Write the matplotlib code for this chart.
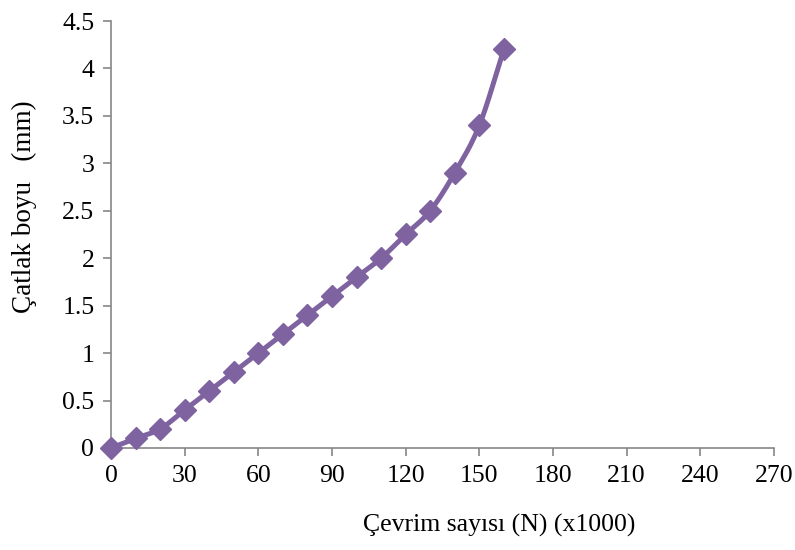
import numpy as np
import matplotlib.pyplot as plt

plt.rcParams['font.family'] = ['Liberation Serif', 'DejaVu Serif']

cycles = [0, 10, 20, 30, 40, 50, 60, 70, 80, 90, 100, 110, 120, 130, 140, 150, 160]
crack = [0, 0.1, 0.2, 0.4, 0.6, 0.8, 1.0, 1.2, 1.4, 1.6, 1.8, 2.0, 2.25, 2.5, 2.9, 3.4, 4.2]
x_ticks = [0, 30, 60, 90, 120, 150, 180, 210, 240, 270]
y_ticks = [0, 0.5, 1, 1.5, 2, 2.5, 3, 3.5, 4, 4.5]
y_tick_labels = ['0', '0.5', '1', '1.5', '2', '2.5', '3', '3.5', '4', '4.5']

color = '#7F63A1'
axis_color = '#868686'


def smooth(x, y, n=20):
    # catmull-rom curve through the points, like excel's smoothed line
    x = np.asarray(x, float)
    y = np.asarray(y, float)
    px = np.concatenate([[2 * x[0] - x[1]], x, [2 * x[-1] - x[-2]]])
    py = np.concatenate([[2 * y[0] - y[1]], y, [2 * y[-1] - y[-2]]])
    xs, ys = [], []
    t = np.linspace(0, 1, n, endpoint=False)
    for i in range(1, len(px) - 2):
        for p, out in ((px, xs), (py, ys)):
            p0, p1, p2, p3 = p[i - 1], p[i], p[i + 1], p[i + 2]
            out.extend(0.5 * (2 * p1 + (-p0 + p2) * t
                              + (2 * p0 - 5 * p1 + 4 * p2 - p3) * t ** 2
                              + (-p0 + 3 * p1 - 3 * p2 + p3) * t ** 3))
    xs.append(x[-1])
    ys.append(y[-1])
    return xs, ys


fig = plt.figure(figsize=(7.95, 5.5), dpi=100)
ax = fig.add_axes([0.1396, 0.1855, 0.834, 0.7763])

sx, sy = smooth(cycles, crack)
ax.plot(sx, sy, color=color, lw=3.6, solid_capstyle='round', clip_on=False, zorder=3)
ax.plot(cycles, crack, 'D', color=color, ms=11, clip_on=False, zorder=4)

ax.set_xlim(0, 270)
ax.set_ylim(0, 4.5)
ax.set_xticks(x_ticks)
ax.set_yticks(y_ticks)
ax.set_yticklabels(y_tick_labels)

for s in ['top', 'right']:
    ax.spines[s].set_visible(False)
for s in ['left', 'bottom']:
    ax.spines[s].set_color(axis_color)
    ax.spines[s].set_linewidth(1.2)
ax.tick_params(colors=axis_color, length=6, width=1.2, labelsize=18.5,
               labelcolor='black', pad=6)

ax.set_xlabel('Çevrim sayısı (N) (x1000)', fontsize=18.5)
ax.xaxis.set_label_coords(0.585, -0.154)
ax.set_ylabel('Çatlak boyu   (mm)', fontsize=19.5)
ax.yaxis.set_label_coords(-0.112, 0.564)

fig.savefig('out.png', dpi=100)
